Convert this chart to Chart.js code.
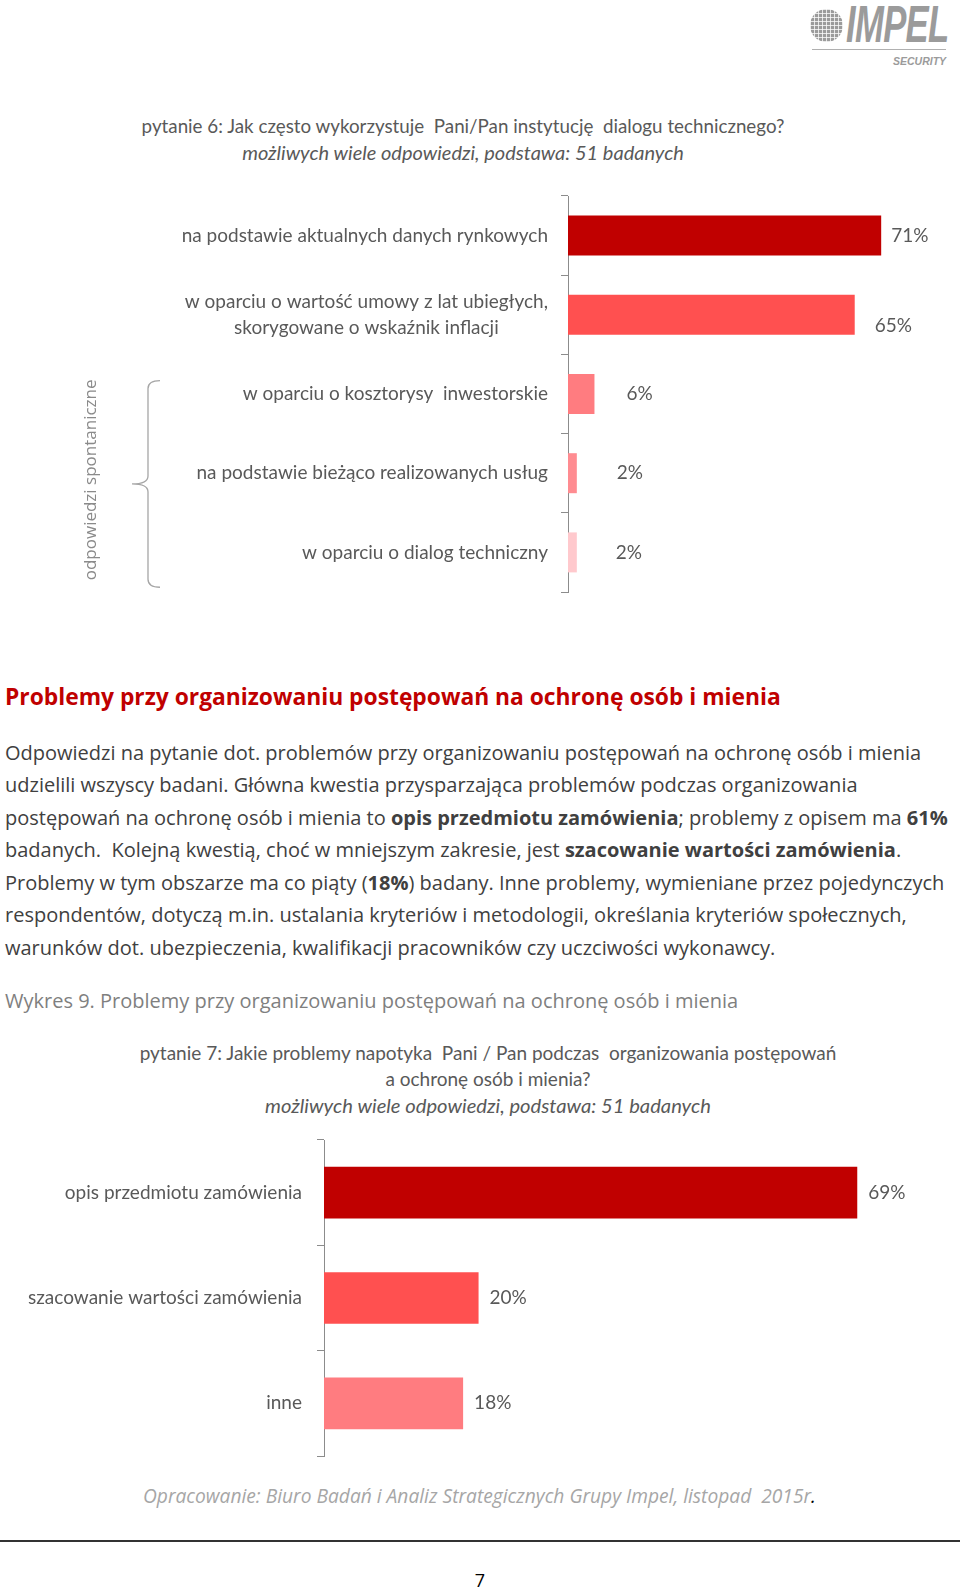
<!DOCTYPE html>
<html lang="pl">
<head>
<meta charset="utf-8">
<script src="https://cdn.jsdelivr.net/npm/chart.js@4.4.1/dist/chart.umd.min.js"></script>
<style>
  html, body { margin: 0; padding: 0; background: #fff; }
  #page { position: relative; width: 960px; height: 1592px; overflow: hidden; font-family: "Open Sans", sans-serif; }
  .abs { position: absolute; white-space: nowrap; }
  .ctitle { font-family: Lato, sans-serif; color: #595959; text-align: center; }
  .body-line { left: 5px; font-size: 20px; line-height: 32px; color: #404040; }
  canvas { position: absolute; left: 0; }
</style>
</head>
<body>
<div id="page">

  <!-- logo -->
  <div class="abs" style="left:810px; top:9px; width:33px; height:33px; border-radius:50%; background:
      repeating-linear-gradient(0deg, rgba(255,255,255,.75) 0 1px, transparent 1px 4px),
      repeating-linear-gradient(90deg, rgba(255,255,255,.75) 0 1px, transparent 1px 4px), #9b9b9b;"></div>
  <div class="abs" style="left:846px; top:-5px; font-family:'Liberation Sans',sans-serif; font-weight:bold; font-style:italic; font-size:51px; color:#9b9b9b; transform:scaleX(0.68); transform-origin:left top; letter-spacing:-1px;">IMPEL</div>
  <div class="abs" style="left:812px; top:49px; width:134px; height:1px; background:#b0b0b0;"></div>
  <div class="abs" style="left:893px; top:55px; font-family:'Liberation Sans',sans-serif; font-weight:bold; font-style:italic; font-size:10.5px; color:#9b9b9b;">SECURITY</div>

  <!-- chart 1 title -->
  <div class="abs ctitle" style="left:0; width:926px; top:113px; font-size:18.8px; line-height:26px;">pytanie 6: Jak często wykorzystuje&nbsp; Pani/Pan instytucję&nbsp; dialogu technicznego?</div>
  <div class="abs ctitle" style="left:0; width:926px; top:139px; font-size:20px; line-height:26px; font-style:italic;">możliwych wiele odpowiedzi, podstawa: 51 badanych</div>

  <canvas id="chart-q6" width="960" height="430" style="top:180px;"></canvas>

  <!-- text block -->
  <div class="abs" style="left:5px; top:681px; font-size:22.8px; line-height:32px; font-weight:bold; color:#C00000;">Problemy przy organizowaniu postępowań na ochronę osób i mienia</div>
  <div class="abs body-line" style="top:737px;">Odpowiedzi na pytanie dot. problemów przy organizowaniu postępowań na ochronę osób i mienia</div>
  <div class="abs body-line" style="top:769px;">udzielili wszyscy badani. Główna kwestia przysparzająca problemów podczas organizowania</div>
  <div class="abs body-line" style="top:802px;">postępowań na ochronę osób i mienia to <b>opis przedmiotu zamówienia</b>; problemy z opisem ma <b>61%</b></div>
  <div class="abs body-line" style="top:834px;">badanych.&nbsp; Kolejną kwestią, choć w mniejszym zakresie, jest <b>szacowanie wartości zamówienia</b>.</div>
  <div class="abs body-line" style="top:867px;">Problemy w tym obszarze ma co piąty (<b>18%</b>) badany. Inne problemy, wymieniane przez pojedynczych</div>
  <div class="abs body-line" style="top:899px;">respondentów, dotyczą m.in. ustalania kryteriów i metodologii, określania kryteriów społecznych,</div>
  <div class="abs body-line" style="top:932px;">warunków dot. ubezpieczenia, kwalifikacji pracowników czy uczciwości wykonawcy.</div>
  <div class="abs body-line" style="top:985px; color:#7f7f7f;">Wykres 9. Problemy przy organizowaniu postępowań na ochronę osób i mienia</div>

  <!-- chart 2 title -->
  <div class="abs ctitle" style="left:0; width:976px; top:1040px; font-size:19px; line-height:26px;">pytanie 7: Jakie problemy napotyka&nbsp; Pani / Pan podczas&nbsp; organizowania postępowań</div>
  <div class="abs ctitle" style="left:0; width:976px; top:1066px; font-size:19px; line-height:26px;">a ochronę osób i mienia?</div>
  <div class="abs ctitle" style="left:0; width:976px; top:1092px; font-size:20.2px; line-height:26px; font-style:italic;">możliwych wiele odpowiedzi, podstawa: 51 badanych</div>

  <canvas id="chart-q7" width="960" height="360" style="top:1120px;"></canvas>

  <!-- footer -->
  <div class="abs" style="left:143px; top:1482px; font-size:19.2px; line-height:28px; font-style:italic; color:#a6a6a6;">Opracowanie: Biuro Badań i Analiz Strategicznych Grupy Impel, listopad&nbsp; 2015r<span style="color:#000;">.</span></div>
  <div class="abs" style="left:0; top:1540px; width:960px; height:2px; background:#333;"></div>
  <div class="abs" style="left:0; width:960px; top:1567px; text-align:center; font-size:18px; line-height:26px; color:#000;">7</div>
</div>

<script>
// --- DATA ---
const q6Labels = [
    ['na podstawie aktualnych danych rynkowych'],
    ['w oparciu o wartość umowy z lat ubiegłych,', 'skorygowane o wskaźnik inflacji'],
    ['w oparciu o kosztorysy  inwestorskie'],
    ['na podstawie bieżąco realizowanych usług'],
    ['w oparciu o dialog techniczny']
];
const q6Values = [71, 65, 6, 2, 2];

const q7Labels = [
    ['opis przedmiotu zamówienia'],
    ['szacowanie wartości zamówienia'],
    ['inne']
];
const q7Values = [69, 20, 18];

// --- STYLE ---
const q6Colors = ['#C00000', '#FF5050', '#FF7C80', '#FF8C91', '#FFC9CD'];
const q7Colors = ['#C00000', '#FF5050', '#FF7C80'];
const axisGrey = '#8c8c8c';
const textGrey = '#595959';

// draws the category names left of the axis (right-aligned block, lines centred inside it)
const categoryLabels = {
    id: 'categoryLabels',
    afterDraw(chart, args, opts) {
        const { ctx, chartArea } = chart;
        const yScale = chart.scales.y;
        const labels = chart.data.labels;
        ctx.save();
        ctx.font = opts.font;
        ctx.fillStyle = opts.color;
        ctx.textBaseline = 'middle';
        ctx.textAlign = 'center';
        labels.forEach((lines, i) => {
            const yc = yScale.getPixelForValue(i);
            const maxW = Math.max(...lines.map(l => ctx.measureText(l).width));
            const cx = chartArea.left - opts.gap - maxW / 2;
            const y0 = yc - (lines.length - 1) * opts.lineHeight / 2;
            lines.forEach((l, k) => ctx.fillText(l, cx, y0 + k * opts.lineHeight));
        });
        ctx.restore();
    }
};

// draws the "xx%" value next to each bar
const valueLabels = {
    id: 'valueLabels',
    afterDatasetsDraw(chart, args, opts) {
        const { ctx } = chart;
        const meta = chart.getDatasetMeta(0);
        const values = chart.data.datasets[0].data;
        ctx.save();
        ctx.font = opts.font;
        ctx.fillStyle = opts.color;
        ctx.textBaseline = 'middle';
        ctx.textAlign = 'left';
        meta.data.forEach((bar, i) => {
            const dx = opts.dx[i] ?? opts.dx[0];
            const dy = (opts.dy && opts.dy[i]) || 0;
            ctx.fillText(values[i] + '%', bar.x + dx, bar.y + dy);
        });
        ctx.restore();
    }
};

// brace + rotated note for the spontaneous answers (chart 1 only)
const spontaneousBrace = {
    id: 'spontaneousBrace',
    afterDraw(chart, args, opts) {
        if (!opts.enabled) return;
        const { ctx } = chart;
        const yScale = chart.scales.y;
        const band = yScale.getPixelForValue(1) - yScale.getPixelForValue(0);
        const top = yScale.getPixelForValue(opts.from) - band * 0.17;
        const bottom = yScale.getPixelForValue(opts.to) + band * 0.44;
        const mid = (top + bottom) / 2;
        const x = 148, hook = 160, tip = 132;

        ctx.save();
        ctx.strokeStyle = '#a6a6a6';
        ctx.lineWidth = 1.3;
        ctx.beginPath();
        ctx.moveTo(hook, top);
        ctx.quadraticCurveTo(x, top, x, top + 8);
        ctx.lineTo(x, mid - 8);
        ctx.quadraticCurveTo(x, mid, tip, mid);
        ctx.quadraticCurveTo(x, mid, x, mid + 8);
        ctx.lineTo(x, bottom - 8);
        ctx.quadraticCurveTo(x, bottom, hook, bottom);
        ctx.stroke();

        ctx.translate(91, mid - 4);
        ctx.rotate(-Math.PI / 2);
        ctx.font = '17px "Open Sans"';
        ctx.fillStyle = '#8a8a8a';
        ctx.textAlign = 'center';
        ctx.textBaseline = 'middle';
        ctx.fillText(opts.text, 0, 0);
        ctx.restore();
    }
};

function buildChart(canvasId, labels, values, colors, cfg) {
    const ctx = document.getElementById(canvasId).getContext('2d');
    return new Chart(ctx, {
        type: 'bar',
        data: {
            labels: labels,
            datasets: [{
                data: values,
                backgroundColor: colors,
                borderWidth: 0,
                barPercentage: cfg.barPercentage,
                categoryPercentage: 1
            }]
        },
        options: {
            indexAxis: 'y',
            responsive: false,
            animation: false,
            devicePixelRatio: 1,
            layout: { padding: cfg.padding },
            scales: {
                x: { display: false, min: 0, max: cfg.xMax },
                y: {
                    grid: { drawOnChartArea: false, offset: true, tickLength: 7, color: axisGrey, lineWidth: 1 },
                    border: { display: true, color: axisGrey, width: 1 },
                    ticks: { display: false }
                }
            },
            plugins: {
                legend: { display: false },
                tooltip: { enabled: false },
                categoryLabels: { font: '19px Lato', color: textGrey, gap: cfg.labelGap, lineHeight: 26 },
                valueLabels: { font: '19px Lato', color: textGrey, dx: cfg.valueDx, dy: cfg.valueDy },
                spontaneousBrace: cfg.brace || { enabled: false }
            }
        },
        plugins: [categoryLabels, valueLabels, spontaneousBrace]
    });
}

buildChart('chart-q6', q6Labels, q6Values, q6Colors, {
    padding: { top: 16, bottom: 18, left: 561, right: 10 },
    xMax: 86.6,
    barPercentage: 0.505,
    labelGap: 20,
    valueDx: [10, 20, 32, 40, 39],
    valueDy: [0, 11, 0, 0, 0],
    brace: { enabled: true, from: 2, to: 4, text: 'odpowiedzi spontaniczne' }
});

buildChart('chart-q7', q7Labels, q7Values, q7Colors, {
    padding: { top: 20, bottom: 24, left: 317, right: 10 },
    xMax: 81,
    barPercentage: 0.49,
    labelGap: 22,
    valueDx: [11, 11, 11]
});
</script>
</body>
</html>
